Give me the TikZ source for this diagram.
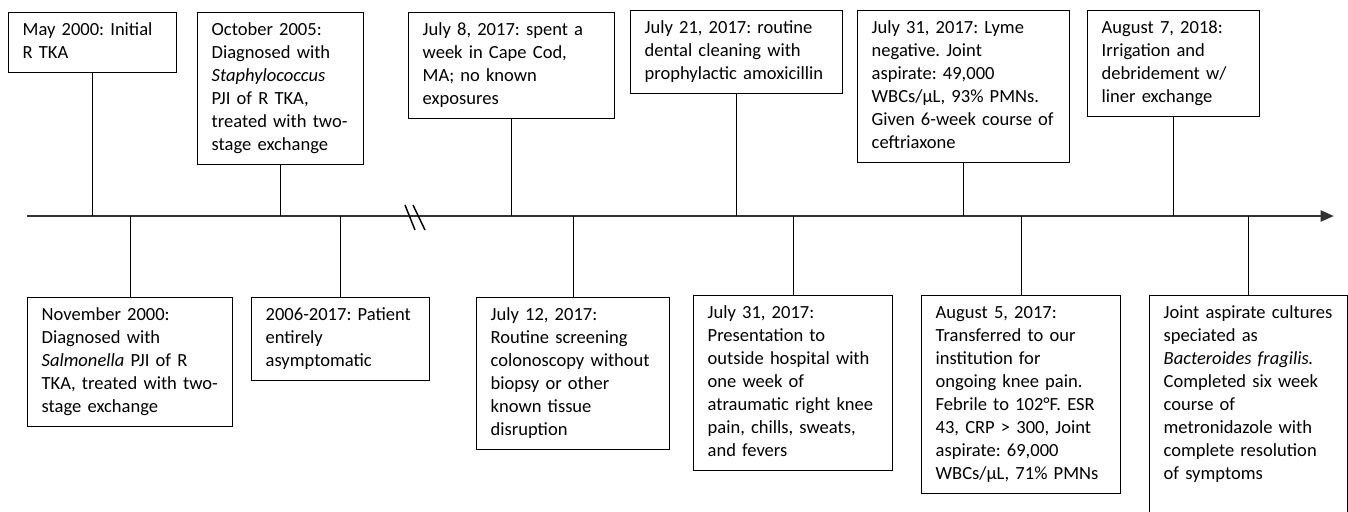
\documentclass[tikz,border=0pt]{standalone}
\usepackage{fontspec}
\setmainfont{Carlito}
\usetikzlibrary{arrows.meta}
\begin{document}
\frenchspacing
\begin{tikzpicture}[x=0.75pt, y=-0.75pt,
    event/.style={draw, line width=1pt, align=left, anchor=north west,
        inner xsep=10.5pt, inner ysep=5.25pt,
        font=\fontsize{13.9}{17.25}\selectfont,
        execute at begin node={\rightskip=0pt minus 200pt\strut},
        execute at end node=\strut},
    stem/.style={line width=0.9pt}]
    \clip (0,0) rectangle (1348,511);
    \coordinate (ax) at (27,216);
    \coordinate (axend) at (1334,216);

    \node[event, text width=105pt] (may00) at (8,12) {May 2000: Initial\\R TKA};
    \node[event, text width=103.5pt] (oct05) at (197,12) {October 2005:\\Diagnosed with\\\textit{Staphylococcus}\\PJI of R TKA,\\treated with two-\\stage exchange};
    \node[event, text width=133.5pt] (jul8) at (408,12) {July 8, 2017: spent a\\week in Cape Cod,\\MA; no known\\exposures};
    \node[event, text width=138pt] (jul21) at (630,10) {July 21, 2017: routine\\dental cleaning with\\prophylactic amoxicillin};
    \node[event, text width=138pt] (lyme) at (857,10) {July 31, 2017: Lyme\\negative. Joint\\aspirate: 49,000\\WBCs/µL, 93\% PMNs.\\Given 6-week course of\\ceftriaxone};
    \node[event, text width=108pt] (aug7) at (1087,10) {August 7, 2018:\\Irrigation and\\debridement w/\\liner exchange};

    \node[event, text width=132.75pt] (nov00) at (27,297) {November 2000:\\Diagnosed with\\\textit{Salmonella} PJI of R\\TKA, treated with two-\\stage exchange};
    \node[event, text width=112.5pt] (yrs) at (251,297) {2006-2017: Patient\\entirely\\asymptomatic};
    \node[event, text width=123.75pt] (jul12) at (476,297) {July 12, 2017:\\Routine screening\\colonoscopy without\\biopsy or other\\known tissue\\disruption};
    \node[event, text width=128.25pt] (jul31) at (693,295) {July 31, 2017:\\Presentation to\\outside hospital with\\one week of\\atraumatic right knee\\pain, chills, sweats,\\and fevers};
    \node[event, text width=128.25pt] (aug5) at (921,295) {August 5, 2017:\\Transferred to our\\institution for\\ongoing knee pain.\\Febrile to 102°F. ESR\\43, CRP > 300, Joint\\aspirate: 69,000\\WBCs/µL, 71\% PMNs};
    \node[event, text width=127.5pt] (cult) at (1149,295) {Joint aspirate cultures\\speciated as\\\textit{Bacteroides fragilis.}\\Completed six week\\course of\\metronidazole with\\complete resolution\\of symptoms\par\vspace*{60pt}};

    \draw[line width=2.2pt, black!80, -{Triangle[length=10pt, width=8pt]}] (ax) -- (axend);
    \draw[line width=1.1pt] (405,205) -- (415,230) (413,205) -- (425,230);

    \foreach \n in {may00,oct05,jul8,jul21,lyme,aug7}
        \draw[stem] (\n.south) -- (\n.south |- ax);
    \foreach \n in {nov00,yrs,jul12,jul31,aug5,cult}
        \draw[stem] (\n.north) -- (\n.north |- ax);
\end{tikzpicture}
\end{document}
